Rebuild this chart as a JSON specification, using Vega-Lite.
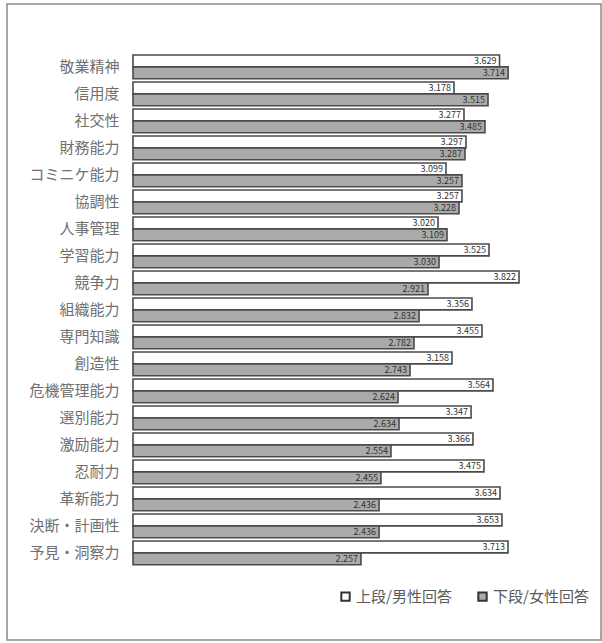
{
  "$schema": "https://vega.github.io/schema/vega-lite/v6.json",
  "width": 594,
  "height": 636,
  "autosize": {"type": "none"},
  "padding": {"left": 7, "top": 4, "right": 1, "bottom": 3},
  "background": "white",
  "config": {
    "view": {"stroke": "#8a8a8a", "strokeWidth": 1.5},
    "font": "Noto Sans CJK JP"
  },
  "data": {
    "values": [
      {"項目": "敬業精神", "回答": "上段/男性回答", "値": 3.629},
      {"項目": "敬業精神", "回答": "下段/女性回答", "値": 3.714},
      {"項目": "信用度", "回答": "上段/男性回答", "値": 3.178},
      {"項目": "信用度", "回答": "下段/女性回答", "値": 3.515},
      {"項目": "社交性", "回答": "上段/男性回答", "値": 3.277},
      {"項目": "社交性", "回答": "下段/女性回答", "値": 3.485},
      {"項目": "財務能力", "回答": "上段/男性回答", "値": 3.297},
      {"項目": "財務能力", "回答": "下段/女性回答", "値": 3.287},
      {"項目": "コミニケ能力", "回答": "上段/男性回答", "値": 3.099},
      {"項目": "コミニケ能力", "回答": "下段/女性回答", "値": 3.257},
      {"項目": "協調性", "回答": "上段/男性回答", "値": 3.257},
      {"項目": "協調性", "回答": "下段/女性回答", "値": 3.228},
      {"項目": "人事管理", "回答": "上段/男性回答", "値": 3.020},
      {"項目": "人事管理", "回答": "下段/女性回答", "値": 3.109},
      {"項目": "学習能力", "回答": "上段/男性回答", "値": 3.525},
      {"項目": "学習能力", "回答": "下段/女性回答", "値": 3.030},
      {"項目": "競争力", "回答": "上段/男性回答", "値": 3.822},
      {"項目": "競争力", "回答": "下段/女性回答", "値": 2.921},
      {"項目": "組織能力", "回答": "上段/男性回答", "値": 3.356},
      {"項目": "組織能力", "回答": "下段/女性回答", "値": 2.832},
      {"項目": "専門知識", "回答": "上段/男性回答", "値": 3.455},
      {"項目": "専門知識", "回答": "下段/女性回答", "値": 2.782},
      {"項目": "創造性", "回答": "上段/男性回答", "値": 3.158},
      {"項目": "創造性", "回答": "下段/女性回答", "値": 2.743},
      {"項目": "危機管理能力", "回答": "上段/男性回答", "値": 3.564},
      {"項目": "危機管理能力", "回答": "下段/女性回答", "値": 2.624},
      {"項目": "選別能力", "回答": "上段/男性回答", "値": 3.347},
      {"項目": "選別能力", "回答": "下段/女性回答", "値": 2.634},
      {"項目": "激励能力", "回答": "上段/男性回答", "値": 3.366},
      {"項目": "激励能力", "回答": "下段/女性回答", "値": 2.554},
      {"項目": "忍耐力", "回答": "上段/男性回答", "値": 3.475},
      {"項目": "忍耐力", "回答": "下段/女性回答", "値": 2.455},
      {"項目": "革新能力", "回答": "上段/男性回答", "値": 3.634},
      {"項目": "革新能力", "回答": "下段/女性回答", "値": 2.436},
      {"項目": "決断・計画性", "回答": "上段/男性回答", "値": 3.653},
      {"項目": "決断・計画性", "回答": "下段/女性回答", "値": 2.436},
      {"項目": "予見・洞察力", "回答": "上段/男性回答", "値": 3.713},
      {"項目": "予見・洞察力", "回答": "下段/女性回答", "値": 2.257}
    ]
  },
  "encoding": {
    "y": {
      "field": "項目",
      "type": "nominal",
      "scale": {
        "domain": ["", "敬業精神", "信用度", "社交性", "財務能力", "コミニケ能力", "協調性", "人事管理", "学習能力", "競争力", "組織能力", "専門知識", "創造性", "危機管理能力", "選別能力", "激励能力", "忍耐力", "革新能力", "決断・計画性", "予見・洞察力", " ", "  "],
        "paddingInner": 0.12,
        "paddingOuter": 0.838,
        "align": 0.531
      },
      "axis": {
        "title": null,
        "domain": false,
        "ticks": false,
        "tickSize": 0,
        "labelPadding": -112,
        "labelAlign": "right",
        "labelFontSize": 15,
        "labelColor": "#707070",
        "labelOverlap": false,
        "labelBound": false,
        "grid": false
      }
    },
    "yOffset": {
      "field": "回答",
      "type": "nominal",
      "sort": ["上段/男性回答", "下段/女性回答"],
      "scale": {"paddingInner": 0, "paddingOuter": 0}
    },
    "x": {
      "field": "値",
      "type": "quantitative",
      "scale": {"domain": [-1.2475, 4.6337], "nice": false, "zero": false},
      "axis": null
    }
  },
  "layer": [
    {
      "mark": {"type": "bar", "stroke": "#4a4a4a", "strokeWidth": 1.6},
      "encoding": {
        "x2": {"datum": 0},
        "color": {
          "field": "回答",
          "type": "nominal",
          "scale": {"domain": ["上段/男性回答", "下段/女性回答"], "range": ["#ffffff", "#aaaaaa"]},
          "legend": {
            "orient": "none",
            "legendX": 331,
            "legendY": 585,
            "direction": "horizontal",
            "title": null,
            "symbolType": "square",
            "symbolSize": 70,
            "symbolStrokeColor": "#333333",
            "symbolStrokeWidth": 2,
            "labelFontSize": 15,
            "labelColor": "#5a5a5a",
            "columnPadding": 22,
            "labelOffset": 3,
            "padding": 0
          }
        }
      }
    },
    {
      "mark": {"type": "text", "align": "right", "dx": -3, "fontSize": 9, "color": "#333333", "baseline": "middle"},
      "encoding": {
        "text": {"field": "値", "type": "quantitative", "format": ".3f"}
      }
    }
  ]
}
